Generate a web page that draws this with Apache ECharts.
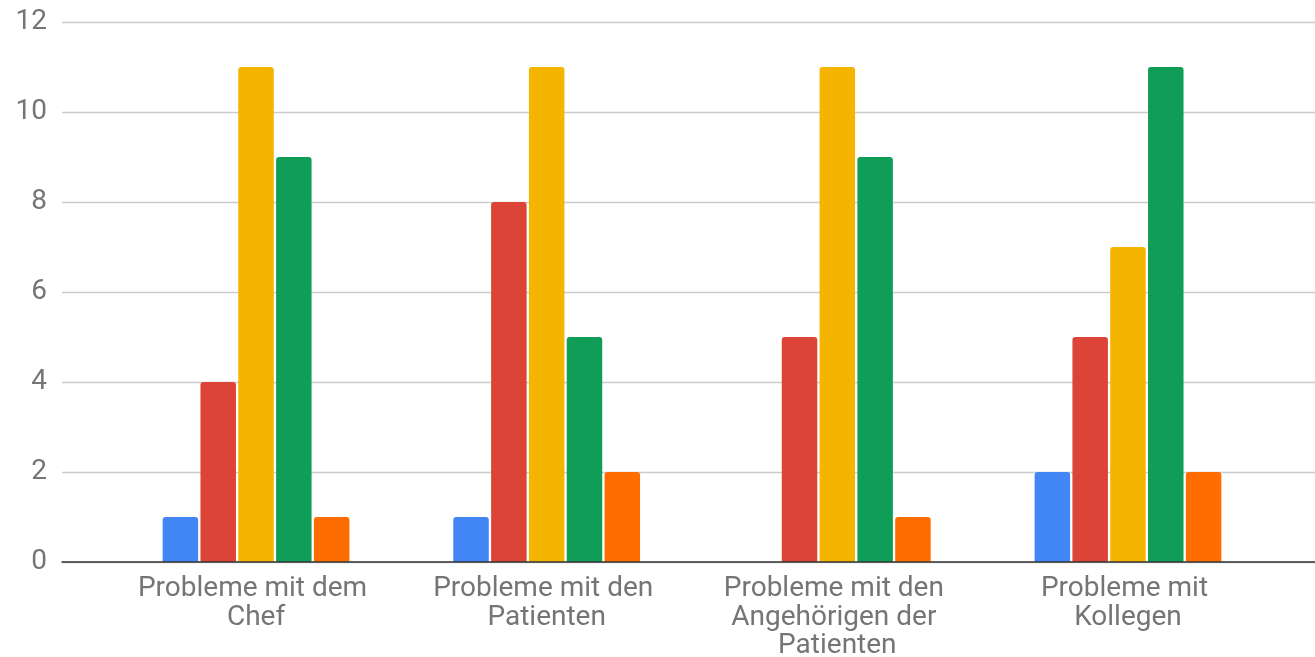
<!DOCTYPE html>
<html><head><meta charset="utf-8">
<script src="https://cdn.jsdelivr.net/npm/echarts@6/dist/echarts.min.js"></script>
<style>html,body{margin:0;padding:0;background:#fff}#c{width:1315px;height:657px}</style>
</head><body><div id="c"></div>
<script>
const categories = ["Probleme mit dem Chef", "Probleme mit den Patienten", "Probleme mit den Angehörigen der Patienten", "Probleme mit Kollegen"];
const seriesNames = ["Serie 1", "Serie 2", "Serie 3", "Serie 4", "Serie 5"];
const serie1 = [1, 1, 0, 2];
const serie2 = [4, 8, 5, 5];
const serie3 = [11, 11, 11, 7];
const serie4 = [9, 5, 9, 11];
const serie5 = [1, 2, 1, 2];
const colors = ["#4285F4", "#DB4437", "#F4B400", "#0F9D58", "#FF6D00"];
const yTicks = [0, 2, 4, 6, 8, 10, 12];

const values = [serie1, serie2, serie3, serie4, serie5];
const font = 'Roboto, "Noto Sans", sans-serif';
const chart = echarts.init(document.getElementById('c'), null, {renderer: 'canvas'});
chart.setOption({
  animation: false,
  backgroundColor: '#fff',
  grid: [
    {left: 62, right: 0, top: 22, bottom: 95, containLabel: false, outerBoundsMode: 'none'},
    {left: 110.7, right: 41.7, top: 22, bottom: 95, containLabel: false, outerBoundsMode: 'none'}
  ],
  xAxis: [
    {gridIndex: 0, type: 'value', min: 0, max: 1, position: 'bottom',
     axisLine: {show: true, lineStyle: {color: '#333', width: 1.5}},
     axisTick: {show: false}, axisLabel: {show: false}, splitLine: {show: false}, z: 5},
    {gridIndex: 1, type: 'category', data: categories,
     axisLine: {show: false}, axisTick: {show: false},
     axisLabel: {interval: 0, color: '#757575', fontSize: 28, fontFamily: font,
       lineHeight: 28.5, margin: 13, width: 255, overflow: 'break'}}
  ],
  yAxis: [
    {gridIndex: 0, type: 'value', min: yTicks[0], max: yTicks[yTicks.length - 1], interval: 2,
     axisLine: {show: false}, axisTick: {show: false},
     axisLabel: {color: '#757575', fontSize: 28, fontFamily: font, margin: 15},
     splitLine: {lineStyle: {color: '#cccccc', width: 1.3}}},
    {gridIndex: 1, type: 'value', min: yTicks[0], max: yTicks[yTicks.length - 1], interval: 2,
     show: false, splitLine: {show: false}}
  ],
  series: values.map((v, i) => ({
    name: seriesNames[i], type: 'bar', xAxisIndex: 1, yAxisIndex: 1,
    data: v, barWidth: 35.5, barGap: '6.5%',
    itemStyle: {color: colors[i], borderRadius: [3, 3, 0, 0]}
  }))
});
</script></body></html>
